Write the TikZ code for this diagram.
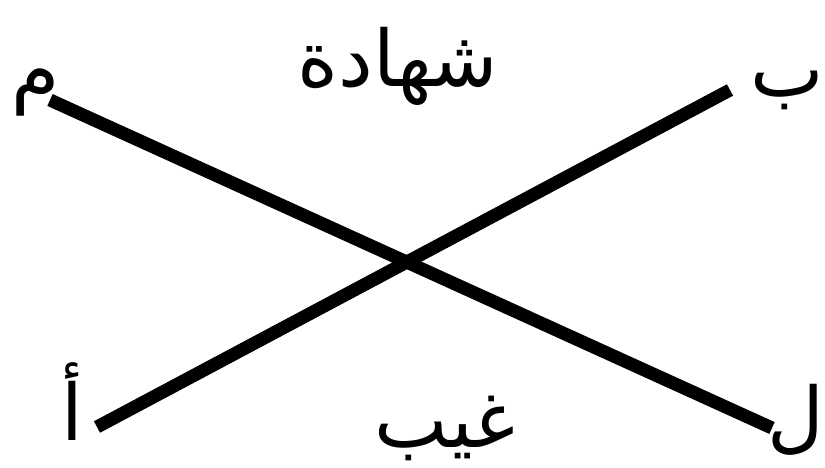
\documentclass[tikz,border=0pt]{standalone}
\usepackage{fontspec}
\newfontfamily\arabicfont[Script=Arabic]{DejaVu Sans}
\TeXXeTstate=1
\usetikzlibrary{arrows.meta}
\tikzset{
  every picture/.style={line join=round, line cap=round, >=Stealth},
  axisline/.style={line width=13pt, line cap=butt},
  lbl/.style={font=\arabicfont\fontsize{78}{86}\selectfont, inner sep=0pt},
}

\begin{document}
\begin{tikzpicture}[x=1pt,y=-1pt]
\useasboundingbox (0,0) rectangle (825,468);
\coordinate (mS) at (50,100);
\coordinate (lE) at (772,428);
\coordinate (aS) at (97,427);
\coordinate (bE) at (730,90);
\draw[axisline] (mS) -- (lE);
\draw[axisline] (aS) -- (bE);
\node[lbl] (mim) at (36,92) {\beginR م\endR};
\node[lbl] (ba) at (787,90) {\beginR ب\endR};
\node[lbl] (alif) at (72,402) {\beginR أ\endR};
\node[lbl] (lam) at (796,420) {\beginR ل\endR};
\node[lbl] (shahada) at (398,66) {\beginR شهادة\endR};
\node[lbl] (ghayb) at (445,428) {\beginR غيب\endR};
\end{tikzpicture}
\end{document}
